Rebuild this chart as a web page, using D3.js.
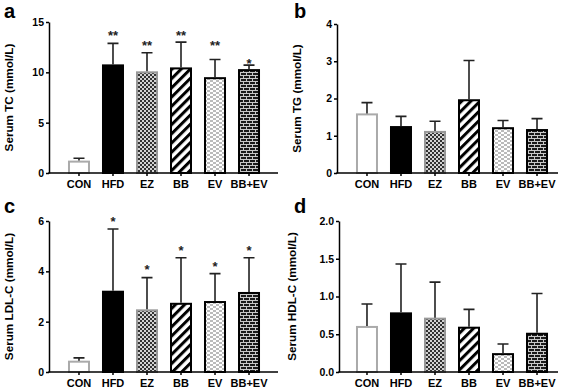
<!DOCTYPE html>
<html>
<head>
<meta charset="utf-8">
<script src="https://cdn.jsdelivr.net/npm/d3@7"></script>
<style>
  body { margin: 0; background: #fff; }
  text { font-family: "Liberation Sans", Arial, sans-serif; font-weight: bold; }
</style>
</head>
<body>
<div id="chart"></div>
<script>
const groups = ["CON", "HFD", "EZ", "BB", "EV", "BB+EV"];

// serum TC (mmol/L)
const tcMean = [1.23, 10.79, 10.1, 10.49, 9.52, 10.32];
const tcSd = [0.23, 2.09, 1.85, 2.51, 1.76, 0.40];
const tcStars = ["", "**", "**", "**", "**", "*"];
const tcStarY = [0, 13.77, 12.78, 13.77, 12.78, 11.02];
const tcTicks = [0, 5, 10, 15];

// serum TG
const tgMean = [1.60, 1.26, 1.13, 1.98, 1.23, 1.18];
const tgSd = [0.29, 0.26, 0.26, 1.04, 0.18, 0.28];
const tgTicks = [0, 1, 2, 3, 4];

// serum LDL-C
const ldlMean = [0.45, 3.23, 2.49, 2.75, 2.82, 3.18];
const ldlSd = [0.11, 2.45, 1.26, 1.79, 1.09, 1.36];
const ldlStars = ["", "*", "*", "*", "*", "*"];
const ldlStarY = [0, 6.03, 4.13, 4.86, 4.24, 4.86];
const ldlTicks = [0, 2, 4, 6];

// serum HDL-C
const hdlMean = [0.61, 0.79, 0.72, 0.60, 0.25, 0.52];
const hdlSd = [0.29, 0.64, 0.47, 0.23, 0.12, 0.52];
const hdlTicks = [0, 0.5, 1.0, 1.5, 2.0];

const w = 567;
const h = 390;

const svg = d3.select("#chart")
              .append("svg")
              .attr("width", w)
              .attr("height", h);

// fill patterns for the groups
const defs = svg.append("defs");

const checker = defs.append("pattern").attr("id", "checker")
  .attr("patternUnits", "userSpaceOnUse").attr("width", 4).attr("height", 4);
checker.append("rect").attr("width", 4).attr("height", 4).attr("fill", "#d4d4d4");
checker.append("rect").attr("width", 2).attr("height", 2).attr("fill", "#333");
checker.append("rect").attr("x", 2).attr("y", 2).attr("width", 2).attr("height", 2).attr("fill", "#333");

const stripes = defs.append("pattern").attr("id", "stripes")
  .attr("patternUnits", "userSpaceOnUse").attr("width", 6.5).attr("height", 6.5)
  .attr("patternTransform", "rotate(45)");
stripes.append("rect").attr("width", 6.5).attr("height", 6.5).attr("fill", "#fff");
stripes.append("rect").attr("width", 3).attr("height", 6.5).attr("fill", "#000");

const dots = defs.append("pattern").attr("id", "dots")
  .attr("patternUnits", "userSpaceOnUse").attr("width", 6).attr("height", 4);
dots.append("rect").attr("width", 6).attr("height", 4).attr("fill", "#fff");
dots.append("rect").attr("width", 3).attr("height", 2).attr("fill", "#bbb");
dots.append("rect").attr("x", 3).attr("y", 2).attr("width", 3).attr("height", 2).attr("fill", "#bbb");

const brick = defs.append("pattern").attr("id", "brick")
  .attr("patternUnits", "userSpaceOnUse").attr("width", 6).attr("height", 6);
brick.append("rect").attr("width", 6).attr("height", 6).attr("fill", "#1a1a1a");
brick.append("path")
     .attr("d", "M0,0.5H6M0,3.5H6M0.5,0V3M3.5,3V6")
     .attr("stroke", "#c8c8c8").attr("stroke-width", 1);

const fills = ["#fff", "#000", "url(#checker)", "url(#stripes)", "url(#dots)", "url(#brick)"];
const strokes = ["#aaa", "#000", "#999", "#000", "#000", "#000"];

const panels = [
  { letter: "a", title: "Serum TC (mmol/L)", mean: tcMean, sd: tcSd, stars: tcStars, starY: tcStarY,
    ticks: tcTicks, fmt: d3.format("d"), x0: 49, x1: 278, top: 22, bottom: 173, titleX: 13, letterX: 4, letterY: 18 },
  { letter: "b", title: "Serum TG (mmol/L)", mean: tgMean, sd: tgSd, stars: null, starY: null,
    ticks: tgTicks, fmt: d3.format("d"), x0: 337, x1: 558, top: 24, bottom: 173, titleX: 301, letterX: 294, letterY: 18 },
  { letter: "c", title: "Serum LDL-C (mmol/L)", mean: ldlMean, sd: ldlSd, stars: ldlStars, starY: ldlStarY,
    ticks: ldlTicks, fmt: d3.format("d"), x0: 49, x1: 278, top: 221, bottom: 372, titleX: 13, letterX: 4, letterY: 213 },
  { letter: "d", title: "Serum HDL-C (mmol/L)", mean: hdlMean, sd: hdlSd, stars: null, starY: null,
    ticks: hdlTicks, fmt: d3.format(".1f"), x0: 339, x1: 558, top: 221, bottom: 372, titleX: 296, letterX: 294, letterY: 213 }
];

panels.forEach((p) => {
  const g = svg.append("g");
  const yMax = p.ticks[p.ticks.length - 1];

  const yScale = d3.scaleLinear().domain([0, yMax]).range([p.bottom, p.top]);
  const bandStart = (p.x0 < 300 ? 62 : 350);
  const xScale = d3.scaleBand()
                   .domain(groups)
                   .range([bandStart, bandStart + 204])
                   .paddingInner(0.353)
                   .paddingOuter(0.176);

  // bars
  g.selectAll(".bar")
   .data(groups)
   .enter()
   .append("rect")
   .attr("class", "bar")
   .attr("x", (d) => xScale(d) + 1)
   .attr("y", (d, i) => yScale(p.mean[i]) + 1)
   .attr("width", xScale.bandwidth() - 2)
   .attr("height", (d, i) => Math.max(0, yScale(0) - yScale(p.mean[i]) - 1))
   .attr("fill", (d, i) => fills[i])
   .attr("stroke", (d, i) => strokes[i])
   .attr("stroke-width", 2);

  // upper error bars
  const cx = (d) => xScale(d) + xScale.bandwidth() / 2;
  g.selectAll(".err")
   .data(groups)
   .enter()
   .append("path")
   .attr("class", "err")
   .attr("d", (d, i) => {
     const x = cx(d);
     const yt = yScale(p.mean[i] + p.sd[i]);
     return `M${x},${yScale(p.mean[i])}V${yt}M${x - 5.5},${yt}H${x + 5.5}`;
   })
   .attr("fill", "none")
   .attr("stroke", "#222")
   .attr("stroke-width", 1.6);

  // significance stars
  if (p.stars) {
    g.selectAll(".star")
     .data(groups)
     .enter()
     .append("text")
     .attr("class", "star")
     .attr("x", cx)
     .attr("y", (d, i) => yScale(p.starY[i]) + 5.5)
     .attr("text-anchor", "middle")
     .style("font-size", "13px")
     .attr("fill", "#222")
     .text((d, i) => p.stars[i]);
  }

  // y axis
  const yAxis = d3.axisLeft(yScale).tickValues(p.ticks).tickFormat(p.fmt)
                  .tickSize(3).tickPadding(2).tickSizeOuter(0);
  const ya = g.append("g")
              .attr("transform", `translate(${p.x0}, 0)`)
              .call(yAxis);
  ya.select(".domain").attr("stroke", "#000").attr("stroke-width", 1.5);
  ya.selectAll(".tick line").attr("stroke", "#000").attr("stroke-width", 1.5);
  ya.selectAll(".tick text")
    .style("font-size", "10.5px")
    .style("font-family", "'Liberation Sans', Arial, sans-serif")
    .style("font-weight", "bold")
    .attr("fill", "#000");

  // x axis (ticks under bars, plus full-width baseline)
  const xAxis = d3.axisBottom(xScale).tickSize(3).tickPadding(4).tickSizeOuter(0);
  const xa = g.append("g")
              .attr("transform", `translate(0, ${p.bottom})`)
              .call(xAxis);
  xa.select(".domain").remove();
  xa.selectAll(".tick line").attr("stroke", "#000").attr("stroke-width", 1.5);
  xa.selectAll(".tick text")
    .style("font-size", "11px")
    .style("font-family", "'Liberation Sans', Arial, sans-serif")
    .style("font-weight", "bold")
    .attr("fill", "#000");
  g.append("line")
   .attr("x1", p.x0 - 0.75).attr("x2", p.x1)
   .attr("y1", p.bottom).attr("y2", p.bottom)
   .attr("stroke", "#000").attr("stroke-width", 1.5);

  // y axis title
  g.append("text")
   .attr("transform", `translate(${p.titleX}, ${(p.top + p.bottom) / 2}) rotate(-90)`)
   .attr("text-anchor", "middle")
   .style("font-size", "11.7px")
   .text(p.title);

  // panel letter
  g.append("text")
   .attr("x", p.letterX)
   .attr("y", p.letterY)
   .style("font-size", "20px")
   .text(p.letter);
});
</script>
</body>
</html>
